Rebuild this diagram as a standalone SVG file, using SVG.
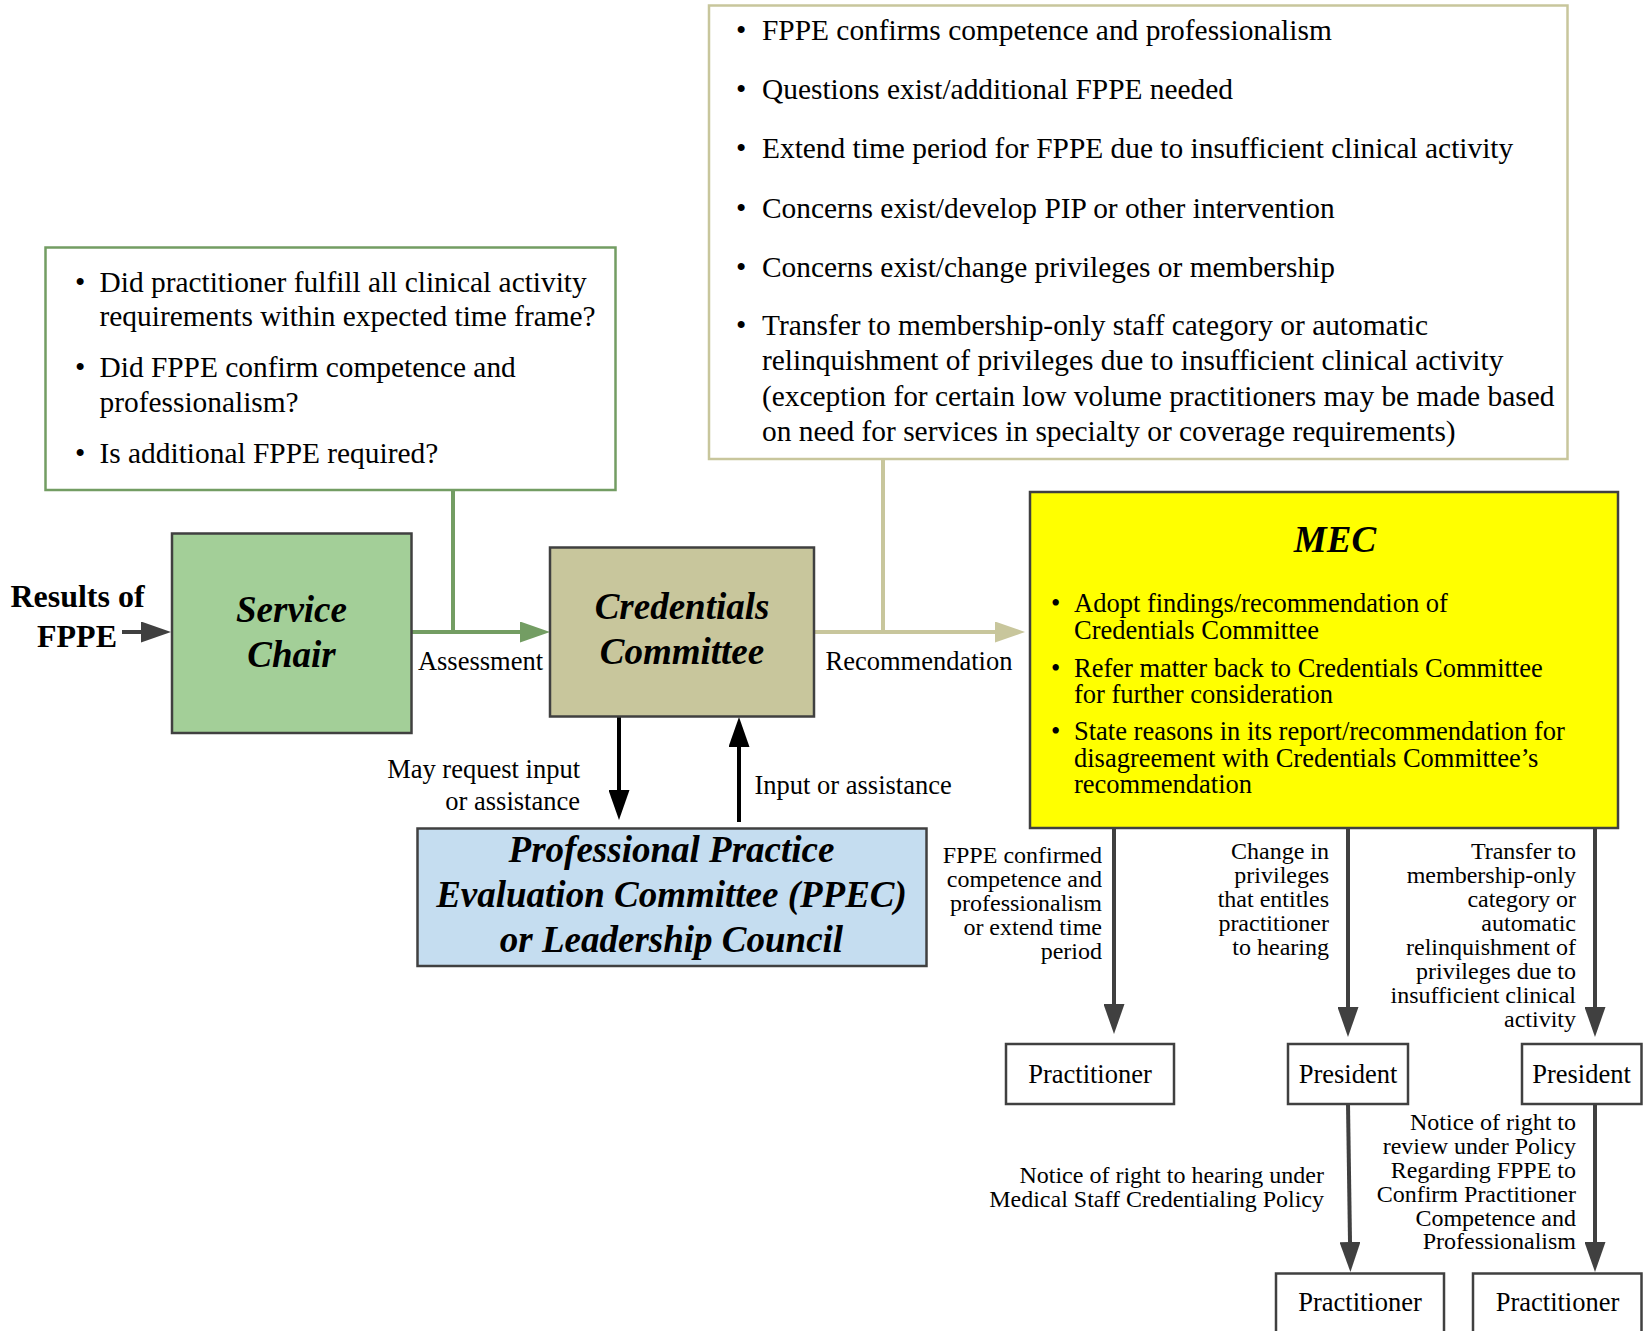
<svg xmlns="http://www.w3.org/2000/svg" width="1643" height="1331" viewBox="0 0 1643 1331">
<style>
  text { font-family: "Liberation Serif", "Times New Roman", serif; fill: #000; }
  .q { font-size: 29.4px; }
  .m { font-size: 26.5px; }
  .l { font-size: 24px; }
  .bi { font-size: 37px; font-weight: bold; font-style: italic; }
  .b { font-size: 32px; font-weight: bold; }
  .c { text-anchor: middle; }
  .e { text-anchor: end; }
  .box { stroke: #404040; stroke-width: 2.5; }
  .dk { stroke: #404040; stroke-width: 4; fill: none; }
  .bk { stroke: #000; stroke-width: 4; fill: none; }
  .gr { stroke: #739D63; stroke-width: 4; fill: none; }
  .tn { stroke: #C8C69C; stroke-width: 4; fill: none; }
</style>
<defs>
  <marker id="aDk" markerUnits="userSpaceOnUse" markerWidth="30" markerHeight="21" refX="0" refY="10.5" orient="auto"><path d="M0,0 L30,10.5 L0,21 z" fill="#404040"/></marker>
  <marker id="aBk" markerUnits="userSpaceOnUse" markerWidth="30" markerHeight="21" refX="0" refY="10.5" orient="auto"><path d="M0,0 L30,10.5 L0,21 z" fill="#000"/></marker>
  <marker id="aGr" markerUnits="userSpaceOnUse" markerWidth="30" markerHeight="21" refX="0" refY="10.5" orient="auto"><path d="M0,0 L30,10.5 L0,21 z" fill="#739D63"/></marker>
  <marker id="aTn" markerUnits="userSpaceOnUse" markerWidth="30" markerHeight="21" refX="0" refY="10.5" orient="auto"><path d="M0,0 L30,10.5 L0,21 z" fill="#C8C69C"/></marker>
</defs>
<rect width="1643" height="1331" fill="#fff"/>

<g id="connectors">
  <line class="dk" x1="122" y1="632" x2="141" y2="632" marker-end="url(#aDk)"/>
  <line class="gr" x1="453" y1="490" x2="453" y2="632"/>
  <line class="gr" x1="412" y1="632" x2="520" y2="632" marker-end="url(#aGr)"/>
  <line class="tn" x1="883" y1="459" x2="883" y2="632"/>
  <line class="tn" x1="815" y1="632" x2="995" y2="632" marker-end="url(#aTn)"/>
  <line class="bk" x1="619" y1="717" x2="619" y2="790" marker-end="url(#aBk)"/>
  <line class="bk" x1="739" y1="822" x2="739" y2="747" marker-end="url(#aBk)"/>
  <line class="dk" x1="1114" y1="829" x2="1114" y2="1004" marker-end="url(#aDk)"/>
  <line class="dk" x1="1348" y1="829" x2="1348" y2="1007" marker-end="url(#aDk)"/>
  <line class="dk" x1="1595" y1="829" x2="1595" y2="1007" marker-end="url(#aDk)"/>
  <line class="dk" x1="1348" y1="1104" x2="1350" y2="1242" marker-end="url(#aDk)"/>
  <line class="dk" x1="1595" y1="1104" x2="1595" y2="1242" marker-end="url(#aDk)"/>
</g>

<g id="connector-labels">
  <text class="m c" x="480.5" y="670">Assessment</text>
  <text class="m c" x="919" y="670">Recommendation</text>
  <text class="m e" x="580" y="778">May request input<tspan x="580" dy="32">or assistance</tspan></text>
  <text class="m" x="754.5" y="793.5">Input or assistance</text>
  <text class="l e" x="1102" y="863">FPPE confirmed<tspan x="1102" dy="24">competence and</tspan><tspan x="1102" dy="24">professionalism</tspan><tspan x="1102" dy="24">or extend time</tspan><tspan x="1102" dy="24">period</tspan></text>
  <text class="l e" x="1329" y="859">Change in<tspan x="1329" dy="24">privileges</tspan><tspan x="1329" dy="24">that entitles</tspan><tspan x="1329" dy="24">practitioner</tspan><tspan x="1329" dy="24">to hearing</tspan></text>
  <text class="l e" x="1576" y="859">Transfer to<tspan x="1576" dy="24">membership-only</tspan><tspan x="1576" dy="24">category or</tspan><tspan x="1576" dy="24">automatic</tspan><tspan x="1576" dy="24">relinquishment of</tspan><tspan x="1576" dy="24">privileges due to</tspan><tspan x="1576" dy="24">insufficient clinical</tspan><tspan x="1576" dy="24">activity</tspan></text>
  <text class="l e" x="1324" y="1183">Notice of right to hearing under<tspan x="1324" dy="24">Medical Staff Credentialing Policy</tspan></text>
  <text class="l e" x="1576" y="1130">Notice of right to<tspan x="1576" dy="24">review under Policy</tspan><tspan x="1576" dy="24">Regarding FPPE to</tspan><tspan x="1576" dy="24">Confirm Practitioner</tspan><tspan x="1576" dy="24">Competence and</tspan><tspan x="1576" dy="23">Professionalism</tspan></text>
</g>

<g id="results-of-fppe">
  <text class="b c" x="77.5" y="606.5">Results of<tspan x="77" dy="40">FPPE</tspan></text>
</g>

<g id="questions-box">
  <rect x="45.5" y="247.5" width="570" height="242.5" fill="#fff" stroke="#739D63" stroke-width="2.5"/>
  <text class="q" x="75" y="291.5">•</text>
  <text class="q" x="99.5" y="291.5">Did practitioner fulfill all clinical activity<tspan x="99.5" dy="34.5">requirements within expected time frame?</tspan></text>
  <text class="q" x="75" y="377">•</text>
  <text class="q" x="99.5" y="377">Did FPPE confirm competence and<tspan x="99.5" dy="34.5">professionalism?</tspan></text>
  <text class="q" x="75" y="462.5">•</text>
  <text class="q" x="99.5" y="462.5">Is additional FPPE required?</text>
</g>

<g id="service-chair">
  <rect class="box" x="172" y="533.5" width="239.5" height="199.5" fill="#A3CF98"/>
  <text class="bi c" x="291.5" y="622">Service<tspan x="291.5" dy="45">Chair</tspan></text>
</g>

<g id="credentials-committee">
  <rect class="box" x="550" y="547.5" width="264" height="169" fill="#C8C69C"/>
  <text class="bi c" x="682" y="619">Credentials<tspan x="682" dy="45">Committee</tspan></text>
</g>

<g id="ppec">
  <rect class="box" x="417.5" y="828.5" width="509" height="137.5" fill="#C5DDF0"/>
  <text class="bi c" x="671.5" y="862">Professional Practice<tspan x="671.5" dy="45">Evaluation Committee (PPEC)</tspan><tspan x="671.5" dy="45">or Leadership Council</tspan></text>
</g>

<g id="recommendation-options">
  <rect x="709" y="5.5" width="858.5" height="453.5" fill="#fff" stroke="#C8C69C" stroke-width="2.5"/>
  <text class="q" x="736" y="40">•</text>
  <text class="q" x="762" y="40">FPPE confirms competence and professionalism</text>
  <text class="q" x="736" y="98.5">•</text>
  <text class="q" x="762" y="98.5">Questions exist/additional FPPE needed</text>
  <text class="q" x="736" y="158">•</text>
  <text class="q" x="762" y="158">Extend time period for FPPE due to insufficient clinical activity</text>
  <text class="q" x="736" y="217.5">•</text>
  <text class="q" x="762" y="217.5">Concerns exist/develop PIP or other intervention</text>
  <text class="q" x="736" y="276.5">•</text>
  <text class="q" x="762" y="276.5">Concerns exist/change privileges or membership</text>
  <text class="q" x="736" y="335">•</text>
  <text class="q" x="762" y="335">Transfer to membership-only staff category or automatic<tspan x="762" dy="35">relinquishment of privileges due to insufficient clinical activity</tspan><tspan x="762" dy="35.5">(exception for certain low volume practitioners may be made based</tspan><tspan x="762" dy="35">on need for services in specialty or coverage requirements)</tspan></text>
</g>

<g id="mec">
  <rect class="box" x="1030" y="492" width="588" height="336" fill="#FFFF00"/>
  <text class="bi c" x="1335" y="552">MEC</text>
  <text class="m" x="1051" y="612">•</text>
  <text class="m" x="1074" y="612">Adopt findings/recommendation of<tspan x="1074" dy="26.5">Credentials Committee</tspan></text>
  <text class="m" x="1051" y="676.5">•</text>
  <text class="m" x="1074" y="676.5">Refer matter back to Credentials Committee<tspan x="1074" dy="26.5">for further consideration</tspan></text>
  <text class="m" x="1051" y="740">•</text>
  <text class="m" x="1074" y="740">State reasons in its report/recommendation for<tspan x="1074" dy="26.5">disagreement with Credentials Committee’s</tspan><tspan x="1074" dy="26.5">recommendation</tspan></text>
</g>

<g id="practitioner-1">
  <rect class="box" x="1006" y="1044" width="168" height="60" fill="#fff"/>
  <text class="m c" x="1090" y="1083">Practitioner</text>
</g>
<g id="president-1">
  <rect class="box" x="1288" y="1044" width="120" height="60" fill="#fff"/>
  <text class="m c" x="1348" y="1083">President</text>
</g>
<g id="president-2">
  <rect class="box" x="1522" y="1044" width="119.5" height="60" fill="#fff"/>
  <text class="m c" x="1581.5" y="1083">President</text>
</g>
<g id="practitioner-2">
  <rect class="box" x="1276" y="1273.5" width="168" height="80" fill="#fff"/>
  <text class="m c" x="1360" y="1311">Practitioner</text>
</g>
<g id="practitioner-3">
  <rect class="box" x="1473" y="1273.5" width="168.5" height="80" fill="#fff"/>
  <text class="m c" x="1557.5" y="1311">Practitioner</text>
</g>
</svg>
